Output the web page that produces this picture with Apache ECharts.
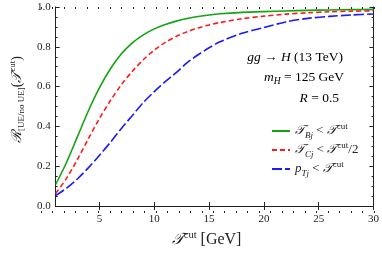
<!DOCTYPE html>
<html><head><meta charset="utf-8">
<script src="https://cdn.jsdelivr.net/npm/echarts@6/dist/echarts.min.js"></script>
<style>html,body{margin:0;padding:0;background:#fff}#c{width:382px;height:253px}</style>
</head><body><div id="c"></div>
<script>
const xValues = [1, 2, 3, 4, 5, 6, 7, 8, 9, 10, 11, 12, 13, 14, 15, 16, 18, 20, 22, 24, 26, 28, 30];
const greenTB = [0.108, 0.22, 0.35, 0.48, 0.595, 0.69, 0.765, 0.82, 0.86, 0.89, 0.912, 0.929, 0.942, 0.952, 0.96, 0.966, 0.973, 0.977, 0.98, 0.983, 0.985, 0.987, 0.988];
const redTC = [0.063, 0.14, 0.235, 0.34, 0.44, 0.53, 0.61, 0.677, 0.735, 0.783, 0.822, 0.852, 0.876, 0.895, 0.91, 0.922, 0.941, 0.954, 0.964, 0.971, 0.976, 0.979, 0.981];
const bluePT = [0.052, 0.09, 0.137, 0.193, 0.255, 0.32, 0.39, 0.455, 0.52, 0.575, 0.625, 0.67, 0.72, 0.76, 0.795, 0.825, 0.868, 0.897, 0.925, 0.943, 0.953, 0.96, 0.965];
const xMajorTicks = [5, 10, 15, 20, 25, 30];
const seriesNames = ['TB', 'TC', 'PT'];

const pair = arr => xValues.map((x, i) => [x, arr[i]]);
const SERIF = 'Liberation Serif, DejaVu Serif, serif';
const INK = '#222';
const T = '\u{1D4AF}';

function makeRich(main, small, lh) {
  return {
    i: {fontFamily: SERIF, fontStyle: 'italic', fontSize: main, color: INK, lineHeight: lh, verticalAlign: 'middle'},
    n: {fontFamily: SERIF, fontSize: main, color: INK, lineHeight: lh, verticalAlign: 'middle'},
    sub: {fontFamily: SERIF, fontStyle: 'italic', fontSize: small, color: INK, lineHeight: small, verticalAlign: 'bottom'},
    subn: {fontFamily: SERIF, fontSize: small, color: INK, lineHeight: small, verticalAlign: 'bottom'},
    sup: {fontFamily: SERIF, fontSize: small, color: INK, lineHeight: small, verticalAlign: 'top'}
  };
}
const legendRich = makeRich(13, 9, 18);
const annRich = makeRich(13.5, 9.5, 18);

const legendLabels = {
  TB: '{i|' + T + '}{sub|Bj}{n| < }{i|' + T + '}{sup|cut}',
  TC: '{i|' + T + '}{sub|Cj}{n| < }{i|' + T + '}{sup|cut}{n|/2}',
  PT: '{i|p}{sub|Tj}{n| < }{i|' + T + '}{sup|cut}'
};

const chart = echarts.init(document.getElementById('c'), null, {renderer: 'canvas'});
const baseAxisLine = {show: true, lineStyle: {color: INK, width: 1}};
chart.setOption({
  animation: false,
  grid: [
    {left: 41, right: 8, top: 7, bottom: 40},
    {left: 41, right: 8, top: 7, bottom: 40}
  ],
  xAxis: [
    {type: 'value', gridIndex: 0, position: 'bottom', min: 1, max: 30,
     axisLine: baseAxisLine,
     axisTick: {show: true, inside: true, length: 4, customValues: xMajorTicks, lineStyle: {color: INK}},
     axisLabel: {customValues: xMajorTicks, fontFamily: SERIF, fontSize: 11, color: INK, margin: 8},
     splitLine: {show: false},
     name: '{ib|' + T + '}{supb|cut}{nb| [GeV]}', nameLocation: 'middle', nameGap: 24,
     nameTextStyle: {padding: [0, 16, 0, 0], rich: {
       ib: {fontFamily: SERIF, fontStyle: 'italic', fontSize: 16, color: INK, lineHeight: 20, verticalAlign: 'middle'},
       nb: {fontFamily: SERIF, fontSize: 16, color: INK, lineHeight: 20, verticalAlign: 'middle'},
       supb: {fontFamily: SERIF, fontSize: 10.5, color: INK, lineHeight: 10, verticalAlign: 'top'}
     }}},
    {type: 'value', gridIndex: 0, position: 'top', min: 1, max: 30,
     axisLine: baseAxisLine,
     axisTick: {show: true, inside: true, length: 4, customValues: xMajorTicks, lineStyle: {color: INK}},
     axisLabel: {show: false}, splitLine: {show: false}},
    {type: 'value', gridIndex: 1, position: 'bottom', min: 1, max: 30, interval: 1,
     axisLine: {show: false},
     axisTick: {show: true, inside: true, length: 2, lineStyle: {color: INK}},
     axisLabel: {show: false}, splitLine: {show: false}},
    {type: 'value', gridIndex: 1, position: 'top', min: 1, max: 30, interval: 1,
     axisLine: {show: false},
     axisTick: {show: true, inside: true, length: 2, lineStyle: {color: INK}},
     axisLabel: {show: false}, splitLine: {show: false}}
  ],
  yAxis: [
    {type: 'value', gridIndex: 0, position: 'left', min: 0, max: 1, interval: 0.2,
     axisLine: baseAxisLine,
     axisTick: {show: true, inside: true, length: 4, lineStyle: {color: INK}},
     minorTick: {show: true, splitNumber: 4, length: 2, lineStyle: {color: INK}},
     axisLabel: {formatter: v => v.toFixed(1), fontFamily: SERIF, fontSize: 11, color: INK, margin: 5},
     splitLine: {show: false},
     name: '{iy|\u211B}{suby|[UE/no UE]}{ny|(}{iy|' + T + '}{supy|cut}{ny|)}',
     nameLocation: 'middle', nameGap: 29,
     nameTextStyle: {padding: [0, 0, 0, 14], rich: {
       iy: {fontFamily: SERIF, fontStyle: 'italic', fontSize: 14, color: INK, lineHeight: 18, verticalAlign: 'middle'},
       ny: {fontFamily: SERIF, fontSize: 14, color: INK, lineHeight: 18, verticalAlign: 'middle'},
       suby: {fontFamily: SERIF, fontSize: 9, color: INK, lineHeight: 9, verticalAlign: 'bottom'},
       supy: {fontFamily: SERIF, fontSize: 9, color: INK, lineHeight: 9, verticalAlign: 'top'}
     }}},
    {type: 'value', gridIndex: 0, position: 'right', min: 0, max: 1, interval: 0.2,
     axisLine: baseAxisLine,
     axisTick: {show: true, inside: true, length: 4, lineStyle: {color: INK}},
     minorTick: {show: true, splitNumber: 4, length: 2, lineStyle: {color: INK}},
     axisLabel: {show: false}, splitLine: {show: false}},
    {type: 'value', gridIndex: 1, min: 0, max: 1, show: false}
  ],
  legend: {
    orient: 'vertical', left: 266, top: 117, itemWidth: 18, itemHeight: 10, itemGap: 1,
    data: seriesNames,
    itemStyle: {opacity: 0, borderWidth: 0},
    formatter: name => legendLabels[name],
    textStyle: {rich: legendRich}
  },
  graphic: [
    {type: 'text', right: 39, top: 50, style: {rich: annRich, text: '{i|gg}{n| \u2192 }{i|H}{n| (13 TeV)}'}},
    {type: 'text', right: 38, top: 70, style: {rich: annRich, text: '{i|m}{sub|H}{n| = 125 GeV}'}},
    {type: 'text', right: 43, top: 91, style: {rich: annRich, text: '{i|R}{n| = 0.5}'}}
  ],
  series: [
    {name: 'TB', type: 'line', xAxisIndex: 0, yAxisIndex: 0, data: pair(greenTB), smooth: 0.3,
     symbol: 'none', lineStyle: {color: '#13a313', width: 1.6}, itemStyle: {color: '#13a313'}},
    {name: 'TC', type: 'line', xAxisIndex: 0, yAxisIndex: 0, data: pair(redTC), smooth: 0.3,
     symbol: 'none', lineStyle: {color: '#ff1a1a', width: 1.6, type: [5, 3]}, itemStyle: {color: '#ff1a1a'}},
    {name: 'PT', type: 'line', xAxisIndex: 0, yAxisIndex: 0, data: pair(bluePT), smooth: 0.3,
     symbol: 'none', lineStyle: {color: '#1a1aff', width: 1.6, type: [10, 3]}, itemStyle: {color: '#1a1aff'}}
  ]
});
</script></body></html>
